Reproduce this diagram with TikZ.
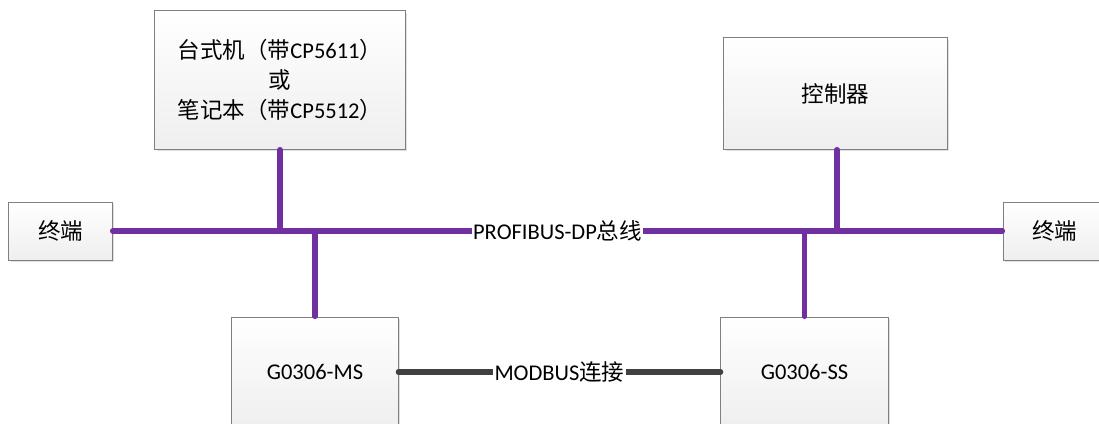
\documentclass[tikz,border=0pt]{standalone}
\usepackage{fontspec}
\setmainfont{Carlito}
\newfontfamily\cjk{Noto Sans CJK SC}
\usetikzlibrary{shadows}
\definecolor{violetbus}{HTML}{7030A0}
\definecolor{grisligne}{HTML}{404040}
\definecolor{grisbord}{HTML}{7F7F7F}
\tikzstyle{boite} = [rectangle, draw=grisbord, line width=0.7pt, top color=white, bottom color=gray!13, drop shadow={shadow xshift=0.06cm, shadow yshift=-0.06cm, fill=black, opacity=0.12}, align=center, inner sep=0pt, font=\fontsize{16pt}{21.5pt}\selectfont]
\tikzstyle{bus} = [draw=violetbus, line width=3.6pt, line cap=round]
\tikzstyle{liaison} = [draw=grisligne, line width=4pt, line cap=round]
\tikzstyle{etiquette} = [fill=white, inner sep=1pt, font=\fontsize{16pt}{21pt}\selectfont]

\begin{document}
\begin{tikzpicture}[x=0.025cm, y=-0.025cm]
        \useasboundingbox (0,0) rectangle (1099,423);

        \node (pc)    [boite, minimum width=6.25cm,  minimum height=3.45cm]  at (280,80)     {{\cjk 台式机（带}CP5611{\cjk ）}\\{\cjk 或}\\{\cjk 笔记本（带}CP5512{\cjk ）}};
        \node (ctrl)  [boite, minimum width=5.575cm, minimum height=2.775cm] at (835.5,93.5) {\cjk 控制器};
        \node (termg) [boite, minimum width=2.575cm, minimum height=1.45cm]  at (60.5,231)   {\cjk 终端};
        \node (termd) [boite, minimum width=2.575cm, minimum height=1.45cm]  at (1054.5,231) {\cjk 终端};
        \node (ms)    [boite, minimum width=4.15cm,  minimum height=2.75cm]  at (315,372)    {G0306-MS};
        \node (ss)    [boite, minimum width=4.175cm, minimum height=2.75cm]  at (804.5,372)  {G0306-SS};

        \coordinate (jpc)   at (pc.south |- termg.east);
        \coordinate (jms)   at (ms.north |- termg.east);
        \coordinate (jctrl) at (837,231);
        \coordinate (jss)   at (ss.north |- termg.east);

        \draw[bus] (termg) -- node[etiquette] (lbus) {PROFIBUS-DP{\cjk 总线}} (termd);
        \draw[bus] (pc) -- (jpc);
        \draw[bus] (jms) -- (ms);
        \draw[bus] (ctrl.south -| jctrl) -- (jctrl);
        \draw[bus] (jss) -- (ss);

        \draw[liaison] (ms) -- node[etiquette] (lmod) {MODBUS{\cjk 连接}} (ss);
    \end{tikzpicture}
\end{document}
